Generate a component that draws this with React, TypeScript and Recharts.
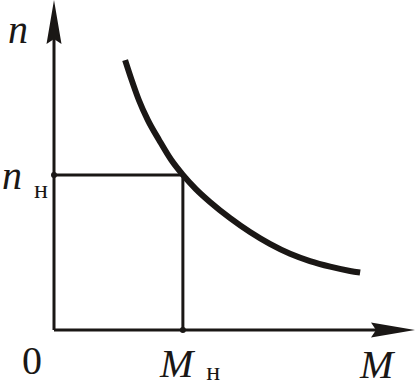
import { LineChart, Line, XAxis, YAxis, ReferenceLine, ReferenceDot } from "recharts";

// mechanical characteristic n(M)
const torque = [1.97, 2.15, 2.35, 2.6, 2.91, 3.25, 3.57, 3.93, 4.32, 4.88, 5.43, 5.98, 6.54, 7.09, 7.65, 8.2, 8.48];
const speed = [8.18, 7.58, 6.97, 6.36, 5.76, 5.15, 4.7, 4.27, 3.88, 3.39, 2.97, 2.61, 2.31, 2.09, 1.92, 1.79, 1.74];
const nominalTorque = 3.57;
const nominalSpeed = 4.7;
const xTicks = [0, nominalTorque, 10];
const yTicks = [nominalSpeed, 10];

const INK = "#1a1715";
const font = { fontFamily: "'Liberation Serif', 'Times New Roman', serif", fontSize: 40, fill: INK };

const data = torque.map((m, i) => ({ m, n: speed[i] }));

// axis line with a long notched arrowhead at the far end
function ArrowAxis(props: any) {
  const { x1, y1, x2, y2 } = props;
  const tipFirst = x1 - y1 > x2 - y2;
  const tx = tipFirst ? x1 : x2;
  const ty = tipFirst ? y1 : y2;
  const sx = tipFirst ? x2 : x1;
  const sy = tipFirst ? y2 : y1;
  const len = Math.hypot(tx - sx, ty - sy) || 1;
  const dx = (tx - sx) / len;
  const dy = (ty - sy) / len;
  const nx = -dy;
  const ny = dx;
  const L = 44;
  const w = 7.5;
  const notch = 5;
  const bx = tx - dx * L;
  const by = ty - dy * L;
  const mx = tx - dx * (L - notch);
  const my = ty - dy * (L - notch);
  const pts = [
    [tx, ty],
    [bx + nx * w, by + ny * w],
    [mx, my],
    [bx - nx * w, by - ny * w],
  ]
    .map((p) => p.join(","))
    .join(" ");
  return (
    <g>
      <line x1={sx} y1={sy} x2={mx} y2={my} stroke={INK} strokeWidth={3} />
      <polygon points={pts} fill={INK} />
    </g>
  );
}

function XTick({ x, y, payload }: any) {
  const v = payload.value;
  if (v === 0) {
    return (
      <text x={x - 22} y={y + 44} textAnchor="middle" {...font}>
        0
      </text>
    );
  }
  if (v === 10) {
    return (
      <text x={x - 55} y={y + 48} {...font} fontStyle="italic">
        M
      </text>
    );
  }
  return (
    <text x={x - 23} y={y + 47} {...font}>
      <tspan fontStyle="italic">M</tspan>
      <tspan fontSize={26} dx={13} dy={3}>н</tspan>
    </text>
  );
}

function YTick({ x, y, payload }: any) {
  const v = payload.value;
  if (v === 10) {
    return (
      <text x={x - 46} y={y + 43} {...font} fontStyle="italic">
        n
      </text>
    );
  }
  return (
    <text x={x - 52} y={y + 14} {...font}>
      <tspan fontStyle="italic">n</tspan>
      <tspan fontSize={26} dx={12} dy={9}>н</tspan>
    </text>
  );
}

export default function App() {
  return (
    <div style={{ position: "absolute", left: 0, top: 0, background: "#fff" }}>
      <LineChart width={417} height={386} data={data} margin={{ top: 0, right: 2, bottom: 0, left: 0 }}>
        <XAxis
          dataKey="m"
          type="number"
          domain={[0, 10]}
          ticks={xTicks}
          axisLine={false}
          tickLine={false}
          tickSize={0}
          tickMargin={0}
          height={56}
          tick={<XTick />}
          interval={0}
        />
        <YAxis
          type="number"
          domain={[0, 10]}
          ticks={yTicks}
          axisLine={false}
          tickLine={false}
          tickSize={0}
          tickMargin={0}
          width={54}
          tick={<YTick />}
          interval={0}
        />
        <ReferenceLine
          segment={[
            { x: 0, y: nominalSpeed },
            { x: nominalTorque, y: nominalSpeed },
          ]}
          stroke={INK}
          strokeWidth={3}
        />
        <ReferenceLine
          segment={[
            { x: nominalTorque, y: nominalSpeed },
            { x: nominalTorque, y: 0 },
          ]}
          stroke={INK}
          strokeWidth={3}
        />
        <ReferenceLine segment={[{ x: 0, y: 0 }, { x: 10, y: 0 }]} shape={<ArrowAxis />} />
        <ReferenceLine segment={[{ x: 0, y: 0 }, { x: 0, y: 10 }]} shape={<ArrowAxis />} />
        <ReferenceDot x={0} y={nominalSpeed} r={3} fill={INK} stroke="none" />
        <ReferenceDot x={nominalTorque} y={0} r={3} fill={INK} stroke="none" />
        <Line
          dataKey="n"
          type="monotone"
          stroke={INK}
          strokeWidth={6}
          dot={false}
          activeDot={false}
          isAnimationActive={false}
        />
      </LineChart>
    </div>
  );
}
